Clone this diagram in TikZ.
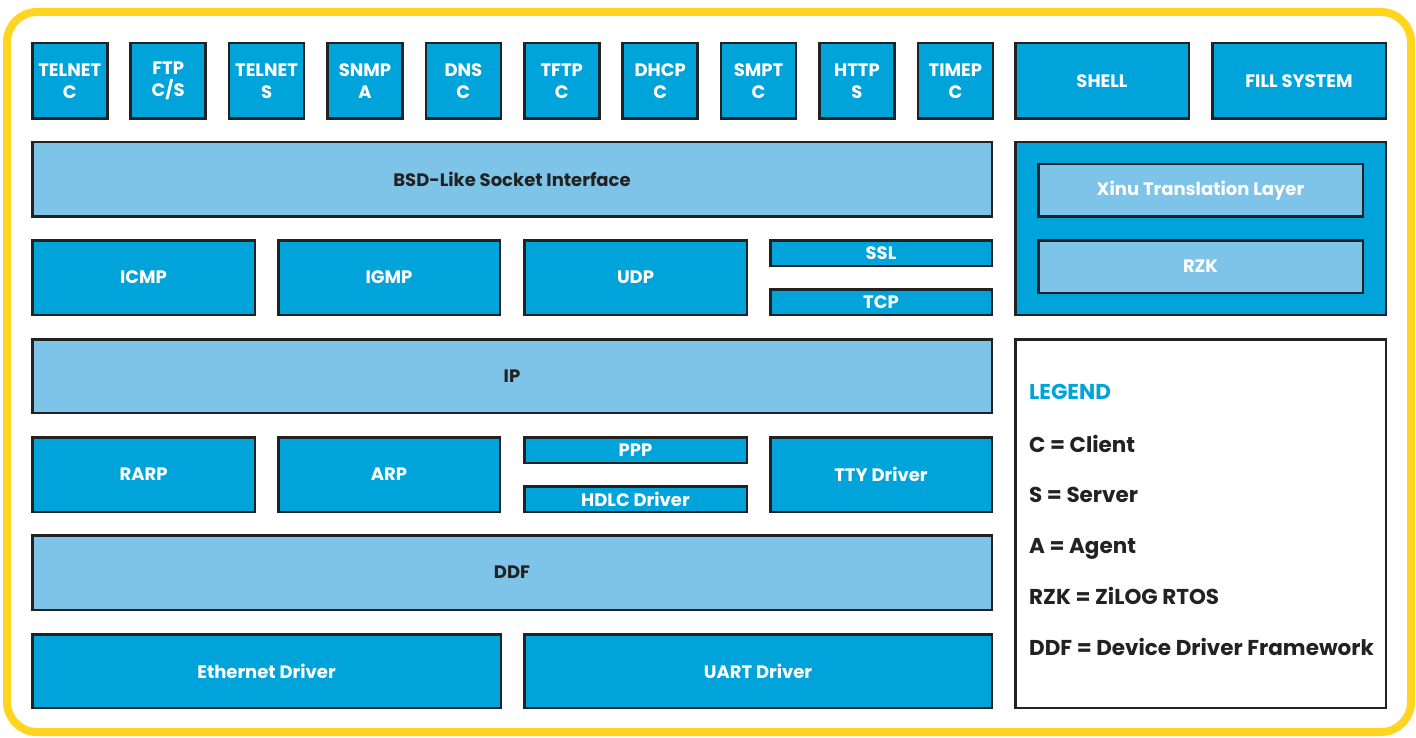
\documentclass[tikz,border=0pt]{standalone}
\usepackage{fontspec}
\setmainfont{Poppins}
\definecolor{dkb}{HTML}{00A3DA}
\definecolor{ltb}{HTML}{7DC4E8}
\definecolor{ylw}{HTML}{FFD520}
\definecolor{edge}{HTML}{222222}
\newcommand\bx[7]{%
 \pgfmathsetmacro\cxx{(#3+#5)/2}\pgfmathsetmacro\cyy{(#4+#6)/2}%
 \pgfmathsetmacro\ww{#5-#3-2.5}\pgfmathsetmacro\hh{#6-#4-2.5}%
 \node[#2, minimum width=\ww pt, minimum height=\hh pt] (#1) at (\cxx,\cyy) {#7};}
\begin{document}
\begin{tikzpicture}[x=1pt,y=-1pt,
  base/.style={draw=edge, line width=2.5pt, inner sep=0pt, align=center, font=\fontsize{18}{22}\selectfont\bfseries},
  dk/.style={base, fill=dkb, text=white},
  lt/.style={base, fill=ltb, text=edge},
  ltw/.style={base, fill=ltb, text=white},
  wh/.style={base, fill=white},
  leg/.style={anchor=base west, inner sep=0pt, font=\fontsize{21.5}{24}\selectfont\bfseries, text=edge}]
\useasboundingbox (0,0) rectangle (1416,738);
\fill[white] (0,0) rectangle (1416,738);
\draw[ylw, line width=8pt, rounded corners=30pt] (7,12) rectangle (1411,732);
% top row
\foreach \nm/\t [count=\i from 0] in {telc/{TELNET\\C},ftp/{FTP\\C/S},tels/{TELNET\\S},snmp/{SNMP\\A},dns/{DNS\\C},tftp/{TFTP\\C},dhcp/{DHCP\\C},smpt/{SMPT\\C},http/{HTTP\\S},timep/{TIMEP\\C}}{
  \pgfmathsetmacro\xa{31+98.4*\i}\pgfmathsetmacro\xb{\xa+77.5}
  \bx{\nm}{dk}{\xa}{42}{\xb}{120}{\t}
}
\bx{shell}{dk}{1014}{42}{1190}{120}{SHELL}
\bx{fill}{dk}{1211}{42}{1387}{120}{FILL SYSTEM}
\bx{bsd}{lt}{31}{141}{993}{218}{BSD-Like Socket Interface}
\bx{rzkp}{dk}{1014}{141}{1387}{316}{}
\bx{xinu}{ltw}{1037}{163}{1364}{218}{Xinu Translation Layer}
\bx{rzk}{ltw}{1037}{239}{1364}{294}{RZK}
\bx{icmp}{dk}{31}{239}{256}{316}{ICMP}
\bx{igmp}{dk}{277}{239}{501}{316}{IGMP}
\bx{udp}{dk}{523}{239}{748}{316}{UDP}
\bx{ssl}{dk}{769}{239}{993}{267}{SSL}
\bx{tcp}{dk}{769}{288}{993}{316}{TCP}
\bx{ip}{lt}{31}{338}{993}{414}{IP}
\bx{rarp}{dk}{31}{436}{256}{513}{RARP}
\bx{arp}{dk}{277}{436}{501}{513}{ARP}
\bx{ppp}{dk}{523}{436}{748}{464}{PPP}
\bx{hdlc}{dk}{523}{485}{748}{513}{HDLC Driver}
\bx{tty}{dk}{769}{436}{993}{513}{TTY Driver}
\bx{ddf}{lt}{31}{534}{993}{611}{DDF}
\bx{eth}{dk}{31}{633}{502}{709}{Ethernet Driver}
\bx{uart}{dk}{523}{633}{993}{709}{UART Driver}
\bx{legend}{wh}{1014}{338}{1387}{709}{}
\node[leg, text=dkb] (l0) at (1029,399) {LEGEND};
\node[leg] (l1) at (1029,452) {C = Client};
\node[leg] (l2) at (1029,502) {S = Server};
\node[leg] (l3) at (1029,553) {A = Agent};
\node[leg] (l4) at (1029,604) {RZK = ZiLOG RTOS};
\node[leg] (l5) at (1029,655) {DDF = Device Driver Framework};
\end{tikzpicture}
\end{document}
